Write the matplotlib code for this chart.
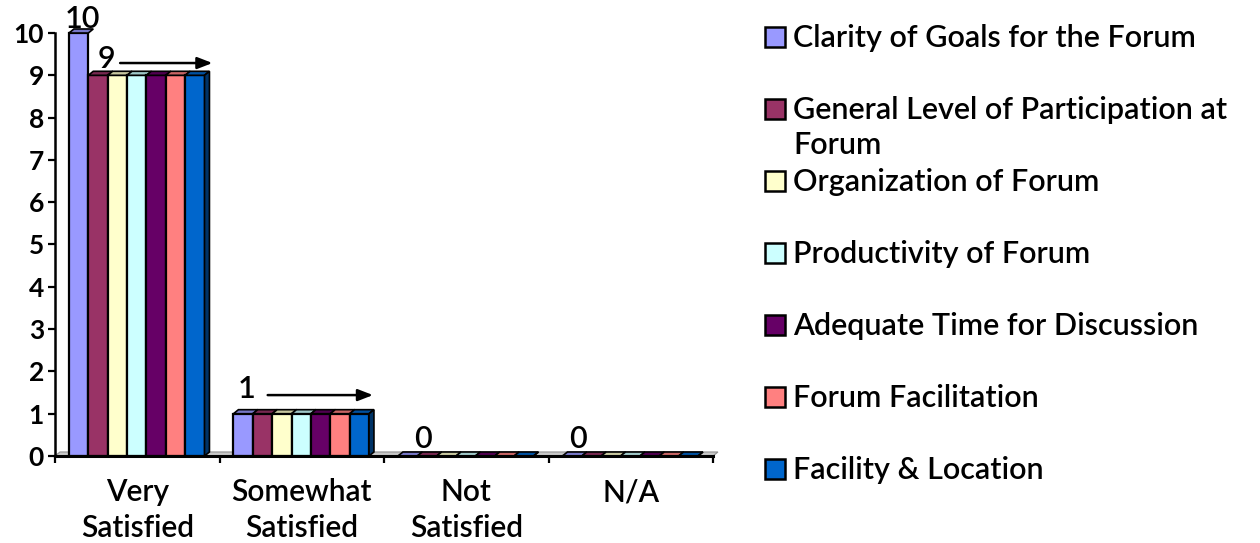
import matplotlib
matplotlib.use("Agg")
import matplotlib.pyplot as plt
from matplotlib.patches import Polygon, Rectangle
import matplotlib.colors as mc
import numpy as np

# ---------------- data ----------------
categories = ["Very\nSatisfied", "Somewhat\nSatisfied", "Not\nSatisfied", "N/A"]
series_names = [
    "Clarity of Goals for the Forum",
    "General Level of Participation at\nForum",
    "Organization of Forum",
    "Productivity of Forum",
    "Adequate Time for Discussion",
    "Forum Facilitation",
    "Facility & Location",
]
clarity = [10, 1, 0, 0]
participation = [9, 1, 0, 0]
organization = [9, 1, 0, 0]
productivity = [9, 1, 0, 0]
adequate_time = [9, 1, 0, 0]
facilitation = [9, 1, 0, 0]
facility = [9, 1, 0, 0]
series_values = [clarity, participation, organization, productivity,
                 adequate_time, facilitation, facility]
colors = ["#9999FF", "#993366", "#FFFFCC", "#CCFFFF", "#660066", "#FF8080", "#0066CC"]

FONT = ["Lato", "DejaVu Sans"]
plt.rcParams["font.family"] = FONT
plt.rcParams["font.weight"] = "semibold"

W, H = 1260, 543
fig = plt.figure(figsize=(W / 100, H / 100), dpi=100)
ax = fig.add_axes([55 / W, (H - 456) / H, (713 - 55) / W, 423 / H])

n = len(series_values)
bw = 0.1177
start = 0.085
dx, dy = 0.030, 0.095  # depth offsets (data units)


def shade(c, f):
    r, g, b = mc.to_rgb(c)
    return (r * f, g * f, b * f)


# floor
floor = Polygon([(0, 0), (4, 0), (4 + dx, dy), (dx, dy)], closed=True,
                facecolor="#C8C8C8", edgecolor="#909090", lw=0.8, zorder=1,
                clip_on=False)
ax.add_patch(floor)

x_cat = np.arange(len(categories))
for i, (vals, col) in enumerate(zip(series_values, colors)):
    xs = x_cat + start + i * bw
    bars = ax.bar(xs, vals, width=bw, align="edge", color=col,
                  edgecolor="black", lw=1.6, zorder=3 + i * 0.1, clip_on=False)
    for b in bars:
        x0, h = b.get_x(), b.get_height()
        top = Polygon([(x0, h), (x0 + bw, h), (x0 + bw + dx, h + dy), (x0 + dx, h + dy)],
                      closed=True, facecolor=shade(col, 0.78), edgecolor="black",
                      lw=1.2, zorder=3 + i * 0.1, clip_on=False)
        ax.add_patch(top)
        if i == n - 1:
            side = Polygon([(x0 + bw, 0), (x0 + bw + dx, dy), (x0 + bw + dx, h + dy), (x0 + bw, h)],
                           closed=True, facecolor=shade(col, 0.5), edgecolor="black",
                           lw=1.2, zorder=3 + i * 0.1, clip_on=False)
            ax.add_patch(side)

# data labels & arrows
lab_fs = 22
ax.text(0.168, 10.12, str(clarity[0]), ha="center", va="baseline", fontsize=lab_fs, zorder=10)
ax.text(0.311, 9.17, str(participation[0]), ha="center", va="baseline", fontsize=lab_fs, zorder=10)
ax.text(1.165, 1.37, str(clarity[1]), ha="center", va="baseline", fontsize=lab_fs, zorder=10)
ax.text(2.238, 0.19, str(clarity[2]), ha="center", va="baseline", fontsize=lab_fs, zorder=10)
ax.text(3.177, 0.19, str(clarity[3]), ha="center", va="baseline", fontsize=lab_fs, zorder=10)

arrowprops = dict(arrowstyle="-|>,head_length=0.9,head_width=0.35", color="black", lw=1.8,
                  shrinkA=0, shrinkB=0)
ax.annotate("", xy=(0.957, 9.29), xytext=(0.396, 9.29), arrowprops=arrowprops,
            annotation_clip=False, zorder=10)
ax.annotate("", xy=(1.933, 1.44), xytext=(1.293, 1.44), arrowprops=arrowprops,
            annotation_clip=False, zorder=10)

# axes styling
ax.set_xlim(0, 4)
ax.set_ylim(0, 10)
for s in ["top", "right"]:
    ax.spines[s].set_visible(False)
ax.spines["left"].set_linewidth(1.8)
ax.spines["bottom"].set_linewidth(2.2)
ax.spines["bottom"].set_zorder(6)
ax.set_yticks(range(0, 11))
ax.tick_params(axis="y", direction="out", length=5, width=1.6, pad=3, labelsize=19)
for t in ax.get_yticklabels():
    t.set_fontweight("bold")
ax.set_xticks(range(0, 5))
ax.set_xticklabels([])
ax.tick_params(axis="x", which="major", direction="out", length=5, width=1.6)
ax.set_xticks(x_cat + 0.5, minor=True)
ax.set_xticklabels(categories, minor=True, fontsize=21.5, linespacing=1.32)
ax.tick_params(axis="x", which="minor", length=0, pad=16)
ax.set_facecolor("none")

# legend (manual, to align markers with first text line)
row0 = 37
for i, (name, col) in enumerate(zip(series_names, colors)):
    cy = row0 + 72 * i
    fig.add_artist(Rectangle((765 / W, (H - cy - 10) / H), 20 / W, 20 / H,
                             transform=fig.transFigure, facecolor=col,
                             edgecolor="black", lw=1.8))
    for k, line in enumerate(name.split("\n")):
        fig.text(793 / W, (H - cy - 10 - 35 * k) / H, line, ha="left", va="baseline",
                 fontsize=22)

fig.savefig("out.png", dpi=100)
